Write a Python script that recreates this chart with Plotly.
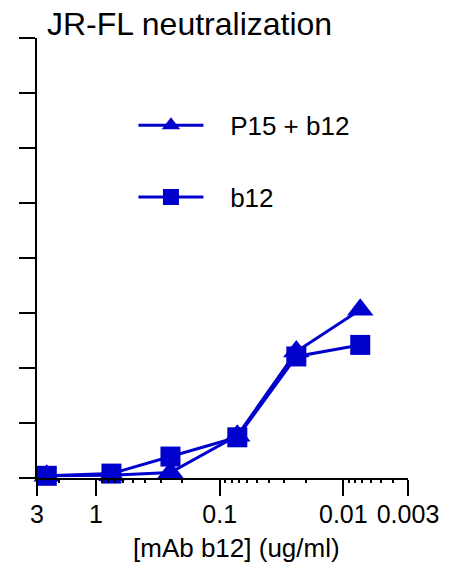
import math
import plotly.graph_objects as go

# Data
conc = [2.5, 0.75, 0.25, 0.072, 0.024, 0.0073]          # ug/ml
p15_b12 = [0.4, 0.5, 1.0, 7.7, 23.0, 30.6]               # P15 + b12
b12 = [0.4, 0.8, 3.9, 7.4, 22.1, 24.2]                   # b12
x_ticks = [3, 1, 0.1, 0.01, 0.003]
x_ticklabels = ["3", "1", "0.1", "0.01", "0.003"]
y_ticks = [0, 10, 20, 30, 40, 50, 60, 70, 80]

BLUE = "rgb(0,0,204)"
FONT = "Arial, 'Liberation Sans', sans-serif"
GAP = "\u00a0\u00a0\u00a0"

fig = go.Figure()
fig.add_trace(go.Scatter(
    x=conc, y=p15_b12, name=GAP + "P15 + b12", mode="lines+markers",
    line=dict(color=BLUE, width=3),
    marker=dict(symbol="triangle-up", size=23, color=BLUE),
    cliponaxis=False, legendgroup="a",
))
fig.add_trace(go.Scatter(
    x=conc, y=b12, name=GAP + "b12", mode="lines+markers",
    line=dict(color=BLUE, width=3),
    marker=dict(symbol="square", size=20, color=BLUE),
    cliponaxis=False, legendgroup="b",
))

fig.update_layout(
    width=449, height=569,
    margin=dict(l=37, r=41, t=38, b=91),
    paper_bgcolor="white", plot_bgcolor="white",
    font=dict(family=FONT, color="black", size=24),
    showlegend=True,
    legend=dict(
        x=0.26, y=0.855, xanchor="left", yanchor="top",
        font=dict(size=26), tracegroupgap=35, traceorder="grouped",
        itemwidth=65, bgcolor="rgba(0,0,0,0)",
    ),
    title=dict(
        text="JR-FL neutralization", font=dict(size=32),
        xref="container", yref="container",
        x=47 / 449, xanchor="left", y=1 - 24 / 569, yanchor="middle",
        automargin=False,
    ),
)

fig.update_xaxes(
    type="log", automargin=False,
    range=[math.log10(3), math.log10(0.003)],
    tickvals=x_ticks, ticktext=x_ticklabels,
    ticks="outside", ticklen=16, tickwidth=2, tickcolor="black",
    showline=True, linewidth=2, linecolor="black",
    showgrid=False, zeroline=False,
    tickfont=dict(size=25), ticklabelstandoff=-3,
    minor=dict(ticks="outside", ticklen=3, tickwidth=1.5, tickcolor="black",
               dtick="D1", showgrid=False),
)
fig.update_yaxes(
    range=[0, 80], automargin=False,
    tickvals=y_ticks, showticklabels=False,
    ticks="outside", ticklen=16, tickwidth=2, tickcolor="black",
    showline=True, linewidth=2, linecolor="black",
    showgrid=False, zeroline=False,
)

fig.add_annotation(
    text="[mAb b12] (ug/ml)", xref="paper", yref="paper",
    x=(236 - 37) / 371, y=(478 - 548) / 440,
    xanchor="center", yanchor="middle", showarrow=False,
    font=dict(size=26),
)

fig.write_html("out.html")
